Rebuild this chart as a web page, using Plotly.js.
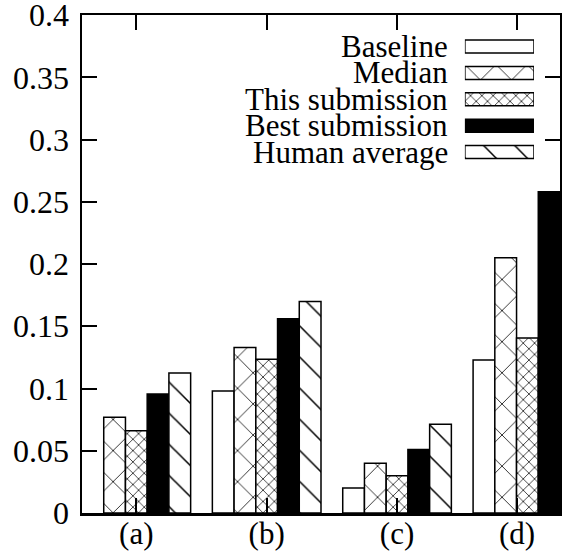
<!DOCTYPE html>
<html>
<head>
<meta charset="utf-8">
<script src="https://cdn.plot.ly/plotly-3.0.1.min.js"></script>
<style>html,body{margin:0;padding:0;background:#fff;overflow:hidden}#chart{width:562px;height:557px}</style>
</head>
<body>
<div id="chart"></div>
<script>
// ---- data ----
const groups = ['(a)', '(b)', '(c)', '(d)'];
const seriesNames = ['Baseline', 'Median', 'This submission', 'Best submission', 'Human average'];
const baseline = [null, 0.098, 0.020, 0.123];
const median = [0.077, 0.133, 0.040, 0.205];
const thisSubmission = [0.066, 0.1235, 0.030, 0.1405];
const bestSubmission = [0.0956, 0.156, 0.051, 0.258];
const humanAverage = [0.1125, 0.170, 0.0713, null];
const yTickVals = [0, 0.05, 0.1, 0.15, 0.2, 0.25, 0.3, 0.35, 0.4];
const yTickText = ['0', '0.05', '0.1', '0.15', '0.2', '0.25', '0.3', '0.35', '0.4'];

const seriesValues = [baseline, median, thisSubmission, bestSubmission, humanAverage];

const FONT = 'Liberation Serif';
const FS = 31;

function markerFor(i) {
  const line = {color: 'black', width: 1.5};
  if (i === 0) return {color: 'white', line};
  if (i === 1) return {color: 'white', line, pattern: {shape: 'x', size: 22, solidity: 0.07, fgcolor: 'black', bgcolor: 'white'}};
  if (i === 2) return {color: 'white', line, pattern: {shape: 'x', size: 8, solidity: 0.17, fgcolor: 'black', bgcolor: 'white'}};
  if (i === 3) return {color: 'black', line};
  return {color: 'white', line, pattern: {shape: '\\', size: 22, solidity: 0.07, fgcolor: 'black', bgcolor: 'white'}};
}

const xpos = groups.map((g, i) => i);
const barW = 1 / 6;
const traces = [];
seriesValues.forEach((vals, s) => {
  traces.push({
    type: 'bar', x: xpos, y: vals, name: seriesNames[s],
    width: barW, offset: -2.5 * barW + s * barW,
    marker: markerFor(s), showlegend: false, hoverinfo: 'skip'
  });
});

// custom legend swatches (wide boxes)
const legendAnn = [];
seriesNames.forEach((nm, s) => {
  traces.push({
    type: 'bar', orientation: 'h', x: [1], y: [4 - s], base: 0,
    width: 0.494, offset: -0.247,
    xaxis: 'x2', yaxis: 'y2', marker: markerFor(s), showlegend: false, hoverinfo: 'skip'
  });
  legendAnn.push({
    xref: 'paper', yref: 'y2', x: 0.7699, y: 4 - s, xanchor: 'right', yanchor: 'middle',
    text: nm, showarrow: false, font: {family: FONT, size: FS, color: 'black'}
  });
});

const axisStyle = {
  ticks: 'inside', ticklen: 15, tickwidth: 2, tickcolor: 'black',
  showline: true, linewidth: 2.5, linecolor: 'black', mirror: 'ticks',
  showgrid: false, zeroline: false, fixedrange: true,
  ticklabeloverflow: 'allow',
  tickfont: {family: FONT, size: FS, color: 'black'}
};

const layout = {
  width: 562, height: 557,
  margin: {l: 82, r: 2, t: 15, b: 44, pad: 0},
  paper_bgcolor: 'white', plot_bgcolor: 'white',
  barmode: 'overlay',
  font: {family: FONT, size: FS, color: 'black'},
  xaxis: Object.assign({}, axisStyle, {
    range: [-2.5 * barW, 3 + 1.5 * barW],
    tickvals: [0, 1, 2, 2.92], ticktext: groups,
    ticklabelstandoff: -9
  }),
  yaxis: Object.assign({}, axisStyle, {
    range: [0, 0.40005], tickvals: yTickVals, ticktext: yTickText,
    ticklabelstandoff: 4,
    tickfont: {family: FONT, size: 32, color: 'black'}
  }),
  xaxis2: {domain: [0.801, 0.9456], anchor: 'y2', range: [0, 1], visible: false, fixedrange: true},
  yaxis2: {domain: [0.6984, 0.963], anchor: 'x2', range: [-0.5, 4.5], visible: false, fixedrange: true},
  annotations: legendAnn,
  showlegend: false
};

Plotly.newPlot('chart', traces, layout, {staticPlot: true, displayModeBar: false});
</script>
</body>
</html>
